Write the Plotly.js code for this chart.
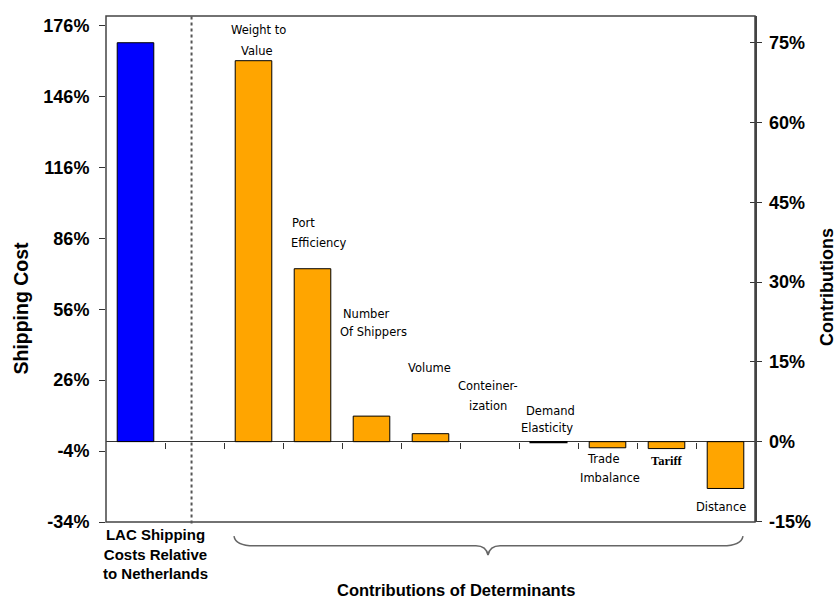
<!DOCTYPE html>
<html>
<head>
<meta charset="utf-8">
<script src="https://cdn.plot.ly/plotly-3.0.1.min.js"></script>
<style>html,body{margin:0;padding:0;background:#fff;}#chart{width:839px;height:599px;}</style>
</head>
<body>
<div id="chart"></div>
<script>
// ---- data ----
const baseCategory = "LAC Shipping Costs Relative to Netherlands";
const baseValue = 168.7; // left axis, %
const determinants = ["Weight to Value", "Port Efficiency", "Number Of Shippers", "Volume",
  "Conteinerization", "Demand Elasticity", "Trade Imbalance", "Tariff", "Distance"];
const contributions = [71.6, 32.5, 4.8, 1.5, 0.0, -0.15, -1.15, -1.3, -8.8]; // right axis, %
const labelLines = [["Weight to", "Value"], ["Port", "Efficiency"], ["Number", "Of Shippers"], ["Volume"],
  ["Conteiner-", "ization"], ["Demand", "Elasticity"], ["Trade", "Imbalance"], ["Tariff"], ["Distance"]];
const leftTicks = [-34, -4, 26, 56, 86, 116, 146, 176];
const rightTicks = [-15, 0, 15, 30, 45, 60, 75];

// ---- layout helpers ----
const baseIdx = 0;
const detIdx = determinants.map((d, i) => i + 2);
const labelPos = [ // [x index, y2 value, xanchor] per line
  [[2.08, 77.4, 'center'], [2.06, 73.4, 'center']],
  [[2.62, 41.1, 'left'], [2.60, 37.4, 'left']],
  [[3.48, 23.9, 'left'], [3.44, 20.7, 'left']],
  [[4.58, 13.8, 'left']],
  [[5.975, 10.5, 'center'], [5.975, 6.75, 'center']],
  [[6.58, 5.75, 'left'], [6.50, 2.5, 'left']],
  [[7.94, -3.27, 'center'], [8.05, -6.78, 'center']],
  [[9.01, -3.65, 'center']],
  [[9.92, -12.35, 'center']]
];

const traces = [
  {type: 'bar', x: [baseIdx], y: [baseValue], yaxis: 'y', width: 0.62,
   marker: {color: '#0000FF', line: {color: '#000', width: 1}}, hoverinfo: 'y', name: baseCategory},
  {type: 'bar', x: detIdx, y: contributions, yaxis: 'y2', width: 0.62, text: determinants, textposition: 'none',
   marker: {color: '#FFA500', line: {color: '#000', width: contributions.map(v => v === 0 ? 0 : (Math.abs(v) < 0.5 ? 1.5 : 1))}},
   name: 'Contributions'},
  {type: 'scatter', x: [0], y: [0], yaxis: 'y3', mode: 'markers', marker: {opacity: 0}, hoverinfo: 'skip', showlegend: false}
];

const annotations = [];
labelLines.forEach((lines, i) => {
  lines.forEach((t, j) => {
    const p = labelPos[i][j];
    const isTariff = determinants[i] === 'Tariff';
    annotations.push({
      x: p[0], y: p[1], xref: 'x', yref: 'y2', xanchor: p[2], yanchor: 'middle', showarrow: false,
      text: isTariff ? '<b>' + t + '</b>' : t,
      font: isTariff ? {family: 'Liberation Serif, serif', size: 12.5, color: '#000'}
                     : {family: 'DejaVu Sans, sans-serif', size: 11.5, color: '#000'}
    });
  });
});
annotations.push(
  {x: 0.347, y: -0.0632, xref: 'x', yref: 'paper', showarrow: false, xanchor: 'center', yanchor: 'middle',
   text: '<b>LAC Shipping<br>Costs Relative<br>to Netherlands</b>',
   font: {family: 'Liberation Sans, Arial, sans-serif', size: 15, color: '#000'}},
  {x: 0.5393, y: -0.1344, xref: 'paper', yref: 'paper', showarrow: false, xanchor: 'center', yanchor: 'middle',
   text: '<b>Contributions of Determinants</b>',
   font: {family: 'Liberation Sans, Arial, sans-serif', size: 16.5, color: '#000'}},
  {x: -0.1317, y: 0.4229, xref: 'paper', yref: 'paper', showarrow: false, textangle: -90, xanchor: 'center', yanchor: 'middle',
   text: '<b>Shipping Cost</b>', font: {family: 'Liberation Sans, Arial, sans-serif', size: 19.5, color: '#000'}},
  {x: 1.1110, y: 0.4644, xref: 'paper', yref: 'paper', showarrow: false, textangle: -90, xanchor: 'center', yanchor: 'middle',
   text: '<b>Contributions</b>', font: {family: 'Liberation Sans, Arial, sans-serif', size: 18, color: '#000'}}
);

const tickFont = {family: 'Liberation Sans, Arial, sans-serif', size: 18, color: '#000', weight: 'bold'};
const pct = v => '<b>' + v + '%</b>';

const layout = {
  width: 839, height: 599,
  margin: {l: 106, r: 84, t: 16, b: 77},
  paper_bgcolor: '#fff', plot_bgcolor: '#fff',
  showlegend: false, barmode: 'overlay',
  xaxis: {range: [-0.5, 10.5], showgrid: false, zeroline: false, showline: false,
    anchor: 'free', position: 80.4 / 506,
    tickvals: [0.5, 1.5, 2.5, 3.5, 4.5, 5.5, 6.5, 7.5, 8.5, 9.5], ticks: 'outside', ticklen: 6,
    tickcolor: '#333', tickwidth: 1, showticklabels: false},
  yaxis: {range: [-34, 180], tickvals: leftTicks, ticktext: leftTicks.map(pct), ticks: 'outside', ticklen: 6,
    tickcolor: '#333', showgrid: false, zeroline: true, zerolinecolor: '#333', zerolinewidth: 1,
    showline: false, tickfont: tickFont, ticklabelstandoff: 6},
  yaxis2: {range: [-15.1, 80], overlaying: 'y', side: 'right', tickvals: rightTicks, ticktext: rightTicks.map(pct),
    ticks: 'outside', ticklen: 5, tickcolor: '#333', showgrid: false, zeroline: false, showline: true,
    linecolor: '#444', linewidth: 1.5, tickfont: tickFont, ticklabelstandoff: 4},
  yaxis3: {range: [-15.1, 80], overlaying: 'y', side: 'right', tickvals: rightTicks, ticks: 'inside', ticklen: 5,
    tickcolor: '#333', showticklabels: false, showgrid: false, zeroline: false, showline: false},
  shapes: [
    {type: 'rect', xref: 'paper', yref: 'paper', x0: 0, x1: 1, y0: 0, y1: 1, line: {color: '#444', width: 1.5}, layer: 'above'},
    {type: 'line', xref: 'x', yref: 'paper', x0: 0.95, x1: 0.95, y0: -0.003, y1: 1, line: {color: '#555', width: 2, dash: 'dot'}},
    {type: 'path', xref: 'paper', yref: 'paper', line: {color: '#666', width: 1.5},
     path: 'M 0.1972,-0.0277 Q 0.1995,-0.0468 0.2280,-0.0468 L 0.5700,-0.0468 Q 0.5860,-0.0470 0.5886,-0.0652 Q 0.5912,-0.0470 0.6072,-0.0468 L 0.9500,-0.0468 Q 0.9790,-0.0468 0.9815,-0.0277'}
  ],
  annotations: annotations
};

Plotly.newPlot('chart', traces, layout, {displayModeBar: false, staticPlot: true});
</script>
</body>
</html>
